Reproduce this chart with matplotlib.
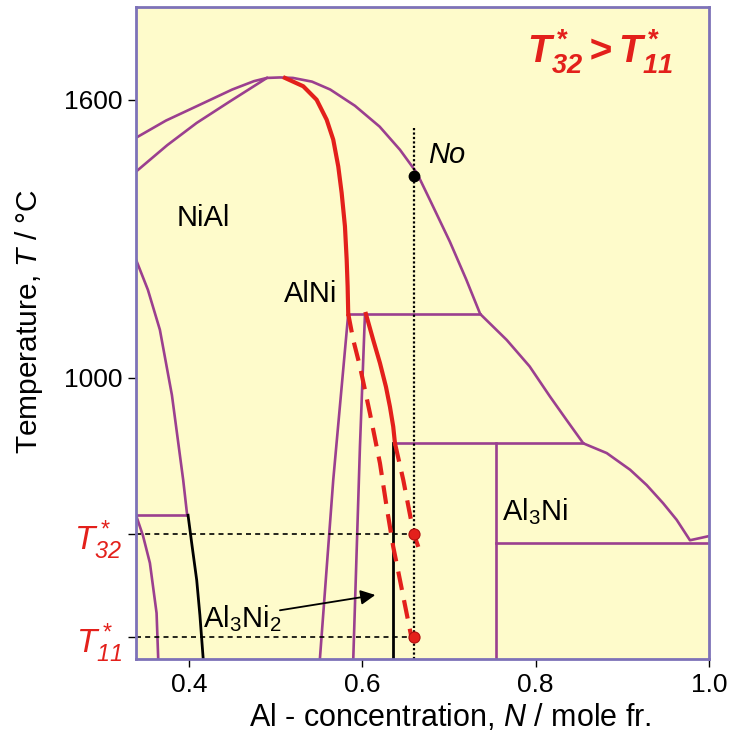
#!/usr/bin/env python

""" Al-Ni phase diagram with the two critical temperatures T*32 and T*11 """

import matplotlib
matplotlib.use("Agg")
import matplotlib.pyplot as plt

plt.rcParams['font.family'] = ['Liberation Sans', 'DejaVu Sans']
plt.rcParams['mathtext.fontset'] = 'custom'
plt.rcParams['mathtext.rm'] = 'Liberation Sans'
plt.rcParams['mathtext.it'] = 'Liberation Sans:italic'
plt.rcParams['mathtext.sf'] = 'Liberation Sans:italic'
plt.rcParams['mathtext.bf'] = 'Liberation Sans:bold:italic'

PURPLE = '#9b3f8f'
RED = '#e3201b'
FRAME = '#7d72b8'
BG = '#fefbcb'

# ---- data (N = Al mole fraction, T in deg C) ----
liquidus_n = [0.339, 0.3735, 0.409, 0.450, 0.475, 0.490, 0.505, 0.520, 0.542, 0.563,
              0.5915, 0.620, 0.6435, 0.663, 0.678, 0.701, 0.720, 0.736, 0.7666,
              0.793, 0.8165, 0.8358, 0.855, 0.882, 0.909, 0.9281, 0.947, 0.9627,
              0.978, 1.0]
liquidus_t = [1518, 1555, 1586, 1622, 1640, 1647, 1648, 1647, 1639, 1622,
              1587, 1542, 1492, 1442, 1384, 1294, 1212, 1138, 1082,
              1025, 960, 909, 859, 838, 802, 769, 730, 694,
              650, 659]

nial_solidus_n = [0.339, 0.375, 0.409, 0.447, 0.490]
nial_solidus_t = [1445, 1502, 1550, 1596, 1647]

nial_left_n = [0.339, 0.3527, 0.3665, 0.3804, 0.3934, 0.398]
nial_left_t = [1255, 1190, 1104, 963, 780, 704]

low_left_n = [0.339, 0.347, 0.355, 0.3627, 0.3646]
low_left_t = [704, 660, 601, 493, 394]

black_left_n = [0.399, 0.4035, 0.409, 0.4127, 0.4165]
black_left_t = [704, 640, 564, 488, 394]

alni_left_n = [0.5838, 0.5665, 0.5511]
alni_left_t = [1138, 780, 394]
alni_right_n = [0.6031, 0.5973, 0.5896]
alni_right_t = [1138, 852, 394]

red_top_n = [0.5108, 0.5319, 0.5473, 0.5589, 0.5665, 0.5723, 0.5762, 0.580,
             0.582, 0.5831, 0.5838]
red_top_t = [1647, 1629, 1600, 1557, 1514, 1456, 1399, 1327,
             1255, 1197, 1138]

red_mid_n = [0.6042, 0.6126, 0.6204, 0.6273, 0.6319, 0.6357, 0.6377]
red_mid_t = [1138, 1082, 1032, 981, 938, 895, 859]

dash_a_n = [0.5838, 0.5896, 0.5973, 0.6088, 0.6204, 0.6281, 0.6357, 0.6435,
            0.6512, 0.657]
dash_a_t = [1138, 1082, 1025, 924, 816, 722, 636, 564, 492, 438]
dash_b_n = [0.6377, 0.6473, 0.6592, 0.6685]
dash_b_t = [859, 780, 665, 615]

tie_1138 = ([0.5838, 0.736], 1138)
tie_859 = ([0.6377, 0.855], 859)
tie_645 = ([0.754, 1.0], 645)
al3ni_n = 0.754
black_vert_n = 0.636

n0 = 0.66
t_no = 1436
t32 = 663
t11 = 441
t_top_dotted = 1540

x_ticks = [0.4, 0.6, 0.8, 1.0]


def main():
    """ main body """
    fig = plt.figure(figsize=(7.29, 7.34), dpi=100)
    ax = fig.add_axes([0.1866, 0.1022, 0.7860, 0.8883])
    ax.set_facecolor(BG)
    ax.set_xlim(0.339, 1.0)
    ax.set_ylim(394, 1800)

    lw = 1.9
    ax.plot(liquidus_n, liquidus_t, color=PURPLE, lw=lw)
    ax.plot(nial_solidus_n, nial_solidus_t, color=PURPLE, lw=lw)
    ax.plot(nial_left_n, nial_left_t, color=PURPLE, lw=lw)
    ax.plot(low_left_n, low_left_t, color=PURPLE, lw=lw)
    ax.plot([0.339, nial_left_n[-1]], [704, 704], color=PURPLE, lw=lw)
    ax.plot(alni_left_n, alni_left_t, color=PURPLE, lw=lw)
    ax.plot(alni_right_n, alni_right_t, color=PURPLE, lw=lw)
    for xs, t in (tie_1138, tie_859, tie_645):
        ax.plot(xs, [t, t], color=PURPLE, lw=lw)
    ax.plot([al3ni_n, al3ni_n], [859, 394], color=PURPLE, lw=lw)

    ax.plot(black_left_n, black_left_t, color='black', lw=2)
    ax.plot([black_vert_n, black_vert_n], [859, 394], color='black', lw=2)

    ax.plot(red_top_n, red_top_t, color=RED, lw=3, solid_joinstyle='round')
    ax.plot(red_mid_n, red_mid_t, color=RED, lw=3, solid_joinstyle='round')
    ax.plot(dash_a_n, dash_a_t, color=RED, lw=3, dashes=(4.5, 2.5))
    ax.plot(dash_b_n, dash_b_t, color=RED, lw=3, dashes=(4.5, 2.5))

    # composition line and the two temperatures
    ax.plot([n0, n0], [t_top_dotted, 394], color='black', lw=1.6, ls=(0, (1, 1)))
    for t in (t32, t11):
        ax.plot([0.339, n0], [t, t], color='black', lw=1.2, ls=(0, (3, 2.5)))
        ax.plot(n0, t, 'o', ms=8, color=RED, mec='#b01010', mew=0.8, zorder=5)
    ax.plot(n0, t_no, 'o', ms=7.5, color='black', zorder=5)

    ax.text(0.4162, 1345, 'NiAl', fontsize=21, ha='center', va='center')
    ax.text(0.5408, 1181, 'AlNi', fontsize=21, ha='center', va='center')
    ax.text(0.7608, 712, r'Al$_3$Ni', fontsize=21, ha='left', va='center')
    ax.text(0.6758, 1481, 'No', fontsize=21, style='italic', ha='left', va='center')
    ax.text(0.4162, 482, r'Al$_3$Ni$_2$', fontsize=21, ha='left', va='center')
    ax.annotate('', xy=(0.615, 532), xytext=(0.505, 499),
                arrowprops=dict(arrowstyle='-|>', color='black', lw=1.3,
                                mutation_scale=22, shrinkA=0, shrinkB=0))
    ax.text(0.874, 1703, r'$\mathbf{T^*_{32} > T^*_{11}}$', fontsize=28,
            color=RED, ha='center', va='center')

    ax.set_xticks(x_ticks)
    ax.set_xticklabels(['0.4', '0.6', '0.8', '1.0'])
    ax.set_yticks([1600, 1000, t32, t11])
    ax.set_yticklabels(['1600', '1000', r'$T^*_{\mathsf{32}}$', r'$T^*_{\mathsf{11}}$'])
    ax.tick_params(direction='out', length=6, width=1, labelsize=19, pad=4)
    for lab in ax.get_yticklabels()[2:]:
        lab.set_color(RED)
        lab.set_fontsize(24)
    for sp in ax.spines.values():
        sp.set_color(FRAME)
        sp.set_linewidth(2)

    ax.set_xlabel(r'Al - concentration, $N$ / mole fr.', fontsize=22, va='baseline')
    ax.xaxis.set_label_coords(0.548, -0.1028)
    ax.set_ylabel(r'Temperature, $T$ / °C', fontsize=21.5, va='baseline')
    ax.yaxis.set_label_coords(-0.1728, 0.517)

    plt.savefig('out.png', dpi=100)
    plt.close()


if __name__ == "__main__":
    main()
